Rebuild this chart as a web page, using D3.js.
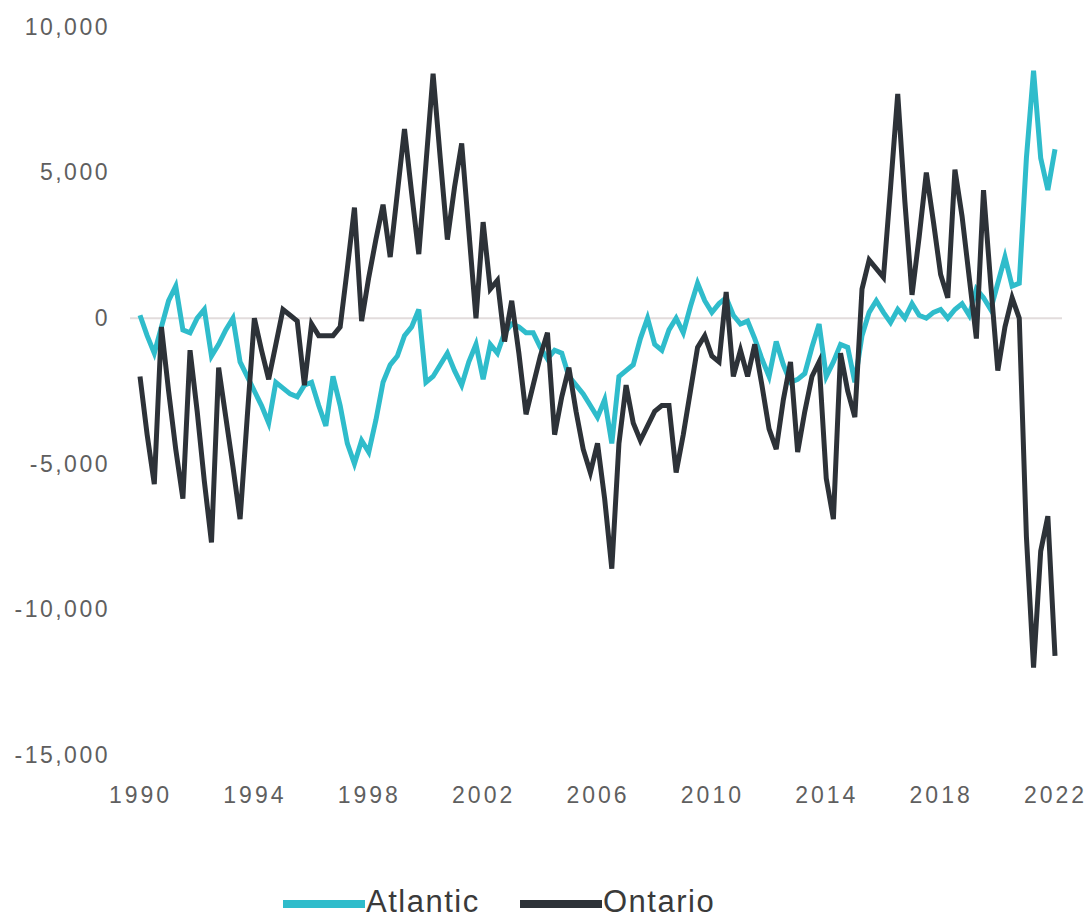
<!DOCTYPE html>
<html><head><meta charset="utf-8">
<script src="https://cdn.jsdelivr.net/npm/d3@7"></script>
<style>body{margin:0;background:#fff}svg{display:block}</style>
</head><body><svg id="c" width="1091" height="923"></svg>
<script>
// Quarterly net interprovincial migration, 1990Q1 onward
const startYear = 1990;
const seriesNames = ["Atlantic", "Ontario"];
const atlantic = [
  100,-600,-1200,-300, 600,1100,-400,-500, 0,300,-1300,-900, -400,0,-1500,-2000,
  -2500,-3000,-3600,-2200, -2400,-2600,-2700,-2300, -2200,-3000,-3700,-2000, -3000,-4300,-5000,-4200,
  -4600,-3500,-2200,-1600, -1300,-600,-300,300, -2200,-2000,-1600,-1200, -1800,-2300,-1500,-900,
  -2100,-900,-1200,-500, -200,-300,-500,-500, -1000,-1400,-1100,-1200, -2000,-2300,-2600,-3000,
  -3400,-2800,-4300,-2000, -1800,-1600,-700,0, -900,-1100,-400,0, -500,400,1200,600,
  200,500,700,100, -200,-100,-700,-1400, -2000,-800,-1600,-2200, -2100,-1900,-1000,-200,
  -2000,-1500,-900,-1000, -2200,-600,200,600, 200,-150,300,0, 500,100,0,200,
  300,0,300,500, 100,1000,700,300, 1200,2100,1100,1200, 5500,8500,5500,4400,
  5800
];
const ontario = [
  -2000,-4000,-5700,-300, -2500,-4500,-6200,-1100, -3200,-5600,-7700,-1700, -3400,-5100,-6900,-3400,
  0,-1100,-2100,-900, 300,100,-100,-2300, -200,-600,-600,-600, -300,1700,3800,-100,
  1400,2700,3900,2100, 4300,6500,4300,2200, 5300,8400,5500,2700, 4500,6000,3000,0,
  3300,1000,1300,-800, 600,-1200,-3300,-2300, -1300,-500,-4000,-2700, -1700,-3200,-4500,-5300,
  -4300,-6200,-8600,-4300, -2300,-3600,-4200,-3700, -3200,-3000,-3000,-5300, -4000,-2500,-1000,-600,
  -1300,-1500,900,-2000, -1100,-2000,-900,-2300, -3800,-4500,-2800,-1500, -4600,-3200,-2000,-1500,
  -5500,-6900,-1200,-2500, -3400,1000,2000,1700, 1400,4500,7700,4000, 800,2800,5000,3300,
  1500,700,5100,3500, 1400,-700,4400,1200, -1800,-300,700,0, -7500,-12000,-8000,-6800,
  -11600
];
const yTicks = [10000, 5000, 0, -5000, -10000, -15000];
const xTicks = [1990, 1994, 1998, 2002, 2006, 2010, 2014, 2018, 2022];
const seriesColors = ["#2fbccb", "#2d3238"];

const svg = d3.select("#c");
const x = d3.scaleLinear().domain([1990, 2022]).range([140, 1055]);
const y = d3.scaleLinear().domain([-15000, 10000]).range([755, 27]);
const fmt = v => d3.format(",")(v).replace("\u2212", "-");

// zero line
svg.append("line")
  .attr("x1", 130).attr("x2", 1062)
  .attr("y1", y(0)).attr("y2", y(0))
  .attr("stroke", "#e2dcdc").attr("stroke-width", 2);

// y axis
const yAxis = d3.axisLeft(y).tickValues(yTicks).tickFormat(fmt).tickSize(0).tickPadding(0);
const gy = svg.append("g").attr("transform", "translate(110,0)").call(yAxis);
gy.select(".domain").remove();
gy.selectAll("text")
  .attr("font-family", "'Liberation Sans', Arial, sans-serif")
  .attr("font-size", 23).attr("letter-spacing", 2.5)
  .attr("fill", "#5f5f5f");

// x axis
const xAxis = d3.axisBottom(x).tickValues(xTicks).tickFormat(d3.format("d")).tickSize(0).tickPadding(0);
const gx = svg.append("g").attr("transform", "translate(0,787)").call(xAxis);
gx.select(".domain").remove();
gx.selectAll("text")
  .attr("font-family", "'Liberation Sans', Arial, sans-serif")
  .attr("font-size", 23).attr("letter-spacing", 3)
  .attr("fill", "#5f5f5f");

const line = d3.line()
  .x((d, i) => x(startYear + i / 4))
  .y(d => y(d));

[atlantic, ontario].forEach((s, k) => {
  svg.append("path").datum(s)
    .attr("d", line)
    .attr("fill", "none")
    .attr("stroke", seriesColors[k])
    .attr("stroke-width", 5)
    .attr("stroke-linejoin", "miter");
});

// legend
const legX = [283, 520];
const lg = svg.append("g");
seriesNames.forEach((n, k) => {
  lg.append("line")
    .attr("x1", legX[k]).attr("x2", legX[k] + 82)
    .attr("y1", 904).attr("y2", 904)
    .attr("stroke", seriesColors[k]).attr("stroke-width", 8);
  lg.append("text")
    .attr("x", legX[k] + 83).attr("y", 912)
    .attr("font-family", "'Liberation Sans', Arial, sans-serif")
    .attr("font-size", 31).attr("letter-spacing", 1.5)
    .attr("fill", "#3a3a3a")
    .text(n);
});
</script>
</body></html>
